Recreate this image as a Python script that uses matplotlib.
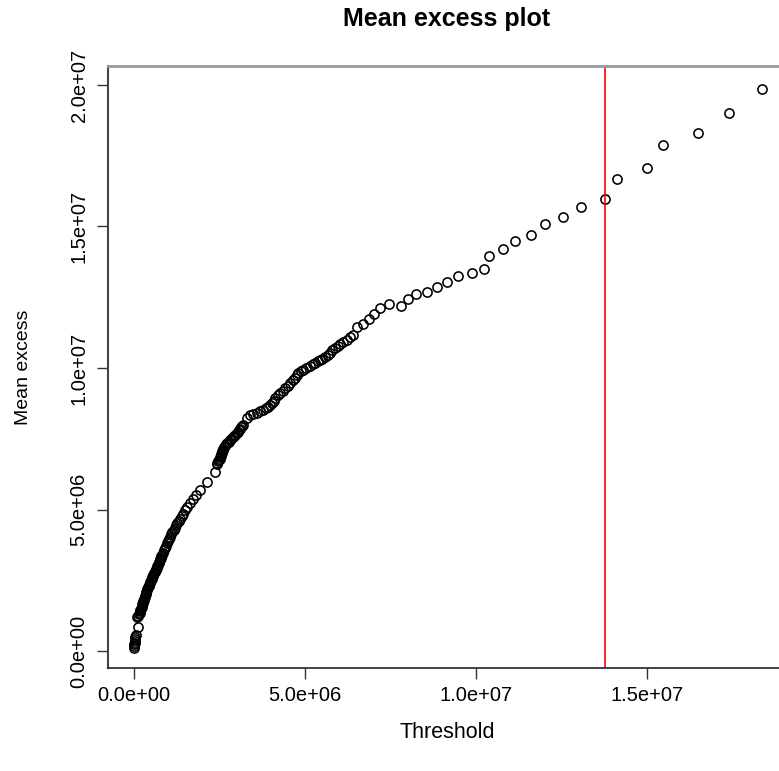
import matplotlib.pyplot as plt
import numpy as np

# threshold (millions)
threshold_m = [
    0.00, 0.01, 0.01, 0.02, 0.03, 0.03, 0.04, 0.05, 0.12,
    0.09, 0.11, 0.14, 0.17, 0.18, 0.19, 0.20, 0.22, 0.23, 0.24,
    0.25, 0.27, 0.28, 0.29, 0.31, 0.32, 0.34, 0.35, 0.36, 0.38,
    0.39, 0.41, 0.43, 0.45, 0.46, 0.48, 0.50, 0.52, 0.54, 0.55,
    0.57, 0.59, 0.61, 0.63, 0.65, 0.66, 0.68, 0.70, 0.72, 0.73,
    0.75, 0.77, 0.79, 0.80, 0.82,
    0.85, 0.88, 0.91, 0.93, 0.96, 0.99, 1.03, 1.06, 1.09, 1.12,
    1.16, 1.20, 1.24, 1.27, 1.31, 1.35, 1.39, 1.42,
    1.49, 1.55, 1.64, 1.73, 1.81, 1.93, 2.13, 2.37,
    2.42, 2.44, 2.46, 2.48, 2.50, 2.51, 2.53, 2.54, 2.56, 2.58,
    2.60, 2.61, 2.63, 2.66, 2.69, 2.73, 2.77, 2.81, 2.84, 2.88,
    2.92, 2.96, 3.01, 3.04, 3.07, 3.10, 3.13, 3.16, 3.19,
    3.29, 3.39, 3.49, 3.60, 3.68, 3.77, 3.85, 3.92, 3.98, 4.04,
    4.08, 4.12, 4.20, 4.27, 4.35, 4.42, 4.49, 4.56, 4.64, 4.71,
    4.76, 4.80, 4.87, 4.94, 5.04, 5.15, 5.22, 5.29, 5.37, 5.44,
    5.51, 5.58, 5.66, 5.73, 5.80, 5.88, 5.95, 6.02, 6.12, 6.23,
    6.31, 6.40,
    6.52, 6.70, 6.87, 7.02, 7.19, 7.46, 7.81, 8.01, 8.25, 8.57,
    8.86, 9.15, 9.47, 9.88, 10.23, 10.38, 10.79, 11.14, 11.61, 12.02,
    12.54, 13.07, 13.77, 14.12, 15.00, 15.47, 16.49, 17.40, 18.36,
]

# mean excess (millions)
mean_excess_m = [
    0.12, 0.18, 0.25, 0.30, 0.36, 0.42, 0.48, 0.55, 0.85,
    1.20, 1.25, 1.30, 1.35, 1.40, 1.45, 1.50, 1.55, 1.60, 1.65,
    1.70, 1.75, 1.80, 1.85, 1.90, 1.95, 2.00, 2.05, 2.10, 2.15,
    2.20, 2.25, 2.30, 2.35, 2.40, 2.45, 2.50, 2.55, 2.60, 2.65,
    2.70, 2.75, 2.80, 2.85, 2.90, 2.95, 3.00, 3.05, 3.10, 3.15,
    3.20, 3.25, 3.30, 3.35, 3.40,
    3.48, 3.56, 3.64, 3.72, 3.80, 3.88, 3.96, 4.04, 4.12, 4.20,
    4.28, 4.36, 4.44, 4.52, 4.60, 4.68, 4.76, 4.84,
    4.98, 5.09, 5.23, 5.37, 5.51, 5.69, 5.97, 6.33,
    6.60, 6.65, 6.70, 6.75, 6.80, 6.85, 6.90, 6.95, 7.00, 7.05,
    7.10, 7.15, 7.20, 7.25, 7.30, 7.35, 7.40, 7.45, 7.50, 7.55,
    7.60, 7.65, 7.70, 7.75, 7.80, 7.85, 7.90, 7.95, 8.00,
    8.25, 8.33, 8.38, 8.42, 8.47, 8.52, 8.57, 8.62, 8.68, 8.76,
    8.85, 8.94, 9.03, 9.12, 9.20, 9.29, 9.38, 9.47, 9.56, 9.65,
    9.74, 9.82, 9.88, 9.93, 10.00, 10.07, 10.13, 10.18, 10.23, 10.28,
    10.33, 10.39, 10.46, 10.53, 10.62, 10.71, 10.78, 10.85, 10.92, 10.99,
    11.08, 11.17,
    11.45, 11.55, 11.73, 11.91, 12.12, 12.26, 12.19, 12.44, 12.62, 12.69,
    12.86, 13.04, 13.25, 13.36, 13.50, 13.96, 14.20, 14.49, 14.70, 15.09,
    15.34, 15.69, 15.97, 16.68, 17.07, 17.88, 18.30, 19.01, 19.86,
]

cutoff_m = 13.77

x_ticks = [0, 5e6, 1e7, 1.5e7]
x_labels = ['0.0e+00', '5.0e+06', '1.0e+07', '1.5e+07']
y_ticks = [0, 5e6, 1e7, 1.5e7, 2e7]
y_labels = ['0.0e+00', '5.0e+06', '1.0e+07', '1.5e+07', '2.0e+07']

plt.rcParams['font.family'] = ['Liberation Sans', 'DejaVu Sans']

x = np.array(threshold_m) * 1e6
y = np.array(mean_excess_m) * 1e6

fig = plt.figure(figsize=(7.79, 7.71), dpi=100)
W, H = 779, 771
ax = fig.add_axes([108 / W, (H - 668) / H, (786 - 108) / W, (668 - 66) / H])

ax.plot(x, y, linestyle='none', marker='o', markersize=6.6,
        markerfacecolor='none', markeredgecolor='black', markeredgewidth=1.15)
ax.axvline(cutoff_m * 1e6, color='red', linewidth=1.2)

ax.set_xlim(-0.76e6, 19.06e6)
ax.set_ylim(-0.6e6, 20.67e6)

ax.set_xticks(x_ticks)
ax.set_xticklabels(x_labels)
ax.set_yticks(y_ticks)
ax.set_yticklabels(y_labels, rotation=90, va='center')
ax.tick_params(axis='both', length=8, width=1.0, color='#333333', labelsize=14.5)
ax.tick_params(axis='x', pad=5)
ax.tick_params(axis='y', pad=6)

ax.spines['top'].set_color('#999999')
ax.spines['top'].set_linewidth(2.0)
ax.spines['left'].set_color('#444444')
ax.spines['left'].set_linewidth(1.5)
ax.spines['bottom'].set_color('#222222')
ax.spines['bottom'].set_linewidth(1.2)
ax.spines['right'].set_visible(False)

ax.set_xlabel('Threshold', fontsize=15.5, labelpad=12)
ax.set_ylabel('Mean excess', fontsize=14, labelpad=27)
ax.set_title('Mean excess plot', fontsize=18, fontweight='bold', pad=29)

fig.savefig('out.png', dpi=100)
